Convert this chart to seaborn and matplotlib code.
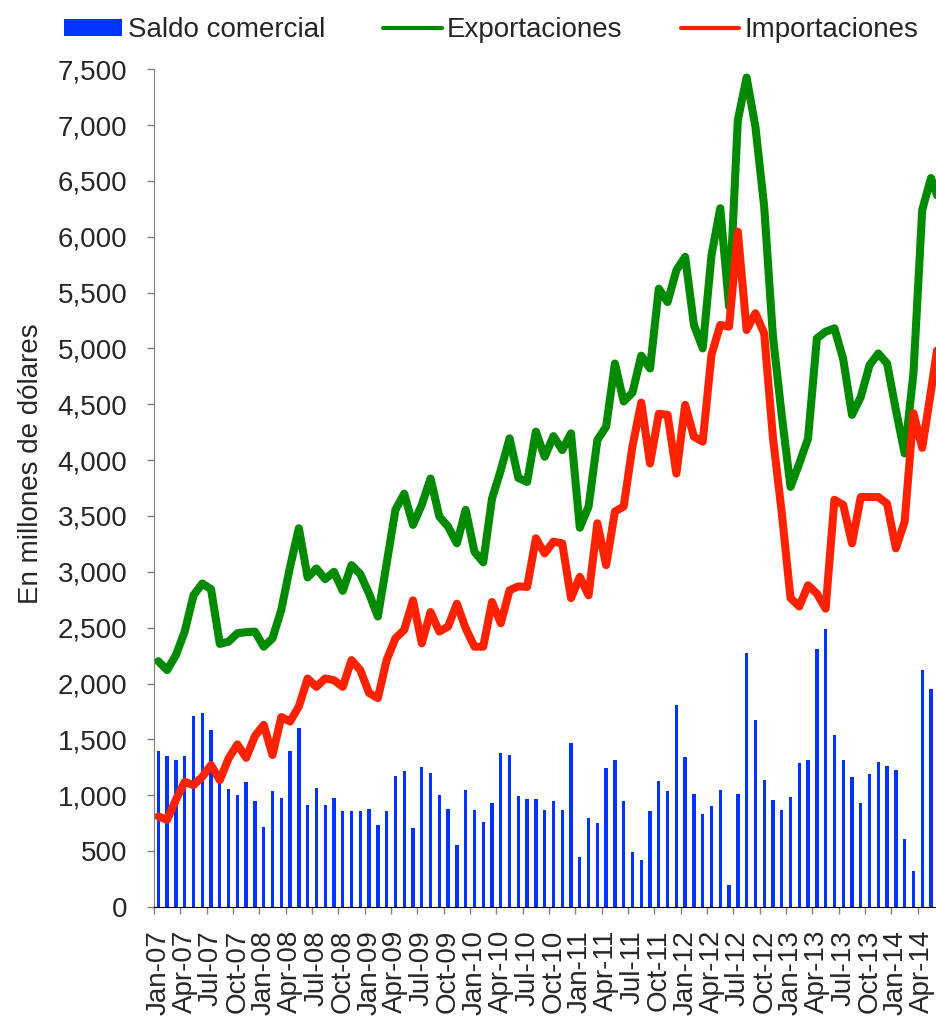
import numpy as np
import seaborn as sns
import matplotlib.pyplot as plt
from matplotlib.lines import Line2D
from matplotlib.patches import Patch
from matplotlib.ticker import FixedLocator, FuncFormatter

# monthly data, Jan-07 .. Jun-14 (last month falls outside the visible area)
exportaciones = [2200, 2120, 2255, 2465, 2790, 2895, 2845, 2355, 2375, 2450, 2460, 2465,
                 2330, 2405, 2660, 3045, 3390, 2950, 3030, 2935, 3000, 2830, 3060, 2980,
                 2805, 2600, 3075, 3555, 3700, 3420, 3600, 3835, 3495, 3405, 3255, 3555,
                 3180, 3085, 3655, 3910, 4195, 3840, 3805, 4255, 4030, 4215, 4090, 4240,
                 3395, 3585, 4180, 4300, 4865, 4525, 4605, 4935, 4820, 5535, 5415, 5700,
                 5820, 5210, 5000, 5835, 6255, 5375, 7045, 7425, 6985, 6270, 5105, 4400,
                 3760, 3970, 4195, 5090, 5150, 5180, 4905, 4405, 4565, 4850, 4955, 4865,
                 4450, 4060, 4775, 6240, 6525, 6300]

importaciones = [810, 780, 960, 1120, 1090, 1165, 1270, 1135, 1330, 1455, 1335, 1530,
                 1630, 1360, 1700, 1660, 1795, 2045, 1970, 2045, 2030, 1970, 2210, 2120,
                 1915, 1870, 2210, 2405, 2480, 2745, 2360, 2640, 2465, 2510, 2715, 2495,
                 2330, 2330, 2730, 2540, 2835, 2870, 2865, 3300, 3165, 3270, 3255, 2765,
                 2955, 2790, 3435, 3060, 3540, 3585, 4125, 4515, 3970, 4415, 4405, 3880,
                 4495, 4210, 4165, 4945, 5210, 5195, 6045, 5165, 5315, 5135, 4200, 3530,
                 2765, 2690, 2880, 2805, 2670, 3645, 3600, 3255, 3670, 3670, 3670, 3610,
                 3210, 3450, 4420, 4110, 4620, 5150]

saldo = [1395, 1350, 1315, 1355, 1705, 1735, 1585, 1215, 1055, 1000, 1120, 950,
         720, 1040, 975, 1395, 1605, 915, 1065, 915, 975, 860, 860, 860,
         875, 730, 860, 1170, 1215, 705, 1255, 1200, 1000, 880, 555, 1045,
         865, 760, 930, 1375, 1360, 990, 965, 965, 870, 950, 870, 1470,
         445, 800, 750, 1245, 1315, 945, 490, 420, 860, 1130, 1035, 1810,
         1340, 1015, 835, 905, 1045, 200, 1010, 2270, 1675, 1140, 960, 870,
         980, 1285, 1315, 2305, 2485, 1535, 1320, 1165, 935, 1190, 1295, 1260,
         1225, 610, 320, 2125, 1950, 1150]

tick_labels = ["Jan-07", "Apr-07", "Jul-07", "Oct-07", "Jan-08", "Apr-08", "Jul-08", "Oct-08",
               "Jan-09", "Apr-09", "Jul-09", "Oct-09", "Jan-10", "Apr-10", "Jul-10", "Oct-10",
               "Jan-11", "Apr-11", "Jul-11", "Oct-11", "Jan-12", "Apr-12", "Jul-12", "Oct-12",
               "Jan-13", "Apr-13", "Jul-13", "Oct-13", "Jan-14", "Apr-14"]

azul = "#0033FF"
verde = "#008A00"
rojo = "#FF2200"

sns.set_style("white")
plt.rcParams['font.family'] = ['Liberation Sans', 'DejaVu Sans']

idx = np.arange(len(saldo))

fig = plt.figure(figsize=(9.36, 10.17), dpi=100)
ax = fig.add_axes([0.1645, 0.1082, 1 - 0.1645, 0.932 - 0.1082])

sns.barplot(x=idx, y=saldo, native_scale=True, width=0.38, color=azul,
            saturation=1, errorbar=None, linewidth=0, ax=ax)
sns.lineplot(x=idx, y=exportaciones, color=verde, lw=5.8, ax=ax,
             solid_joinstyle='round', solid_capstyle='round', legend=False)
sns.lineplot(x=idx, y=importaciones, color=rojo, lw=5.8, ax=ax,
             solid_joinstyle='round', solid_capstyle='round', legend=False)

ax.set_xlim(-0.5, 88.57)
ax.set_ylim(0, 7500)

# y axis
ax.set_yticks(np.arange(0, 7501, 500))
ax.yaxis.set_major_formatter(FuncFormatter(lambda v, p: f"{int(v):,}"))
ax.tick_params(axis='y', labelsize=20, length=5, width=1, color='#808080',
               direction='out', pad=14, left=True)
ax.set_ylabel("En millones de dólares", fontsize=20)
ax.yaxis.set_label_coords(-0.14, 0.529)

# x axis: labels at month centers, ticks on quarter boundaries
ax.set_xticks(np.arange(0, 3 * len(tick_labels), 3))
ax.set_xticklabels(tick_labels, rotation=90, fontsize=20)
ax.tick_params(axis='x', which='major', length=0, pad=16.5)
ax.xaxis.set_minor_locator(FixedLocator(np.arange(-0.5, 90, 3)))
ax.tick_params(axis='x', which='minor', length=5, width=1, color='#808080',
               direction='out', bottom=True)
ax.set_xlabel("")

sns.despine(ax=ax, top=True, right=True)
ax.spines['left'].set_color('#808080')
ax.spines['bottom'].set_color('black')

handles = [Patch(facecolor=azul, edgecolor='none'),
           Line2D([], [], color=verde, lw=3, solid_capstyle='round'),
           Line2D([], [], color=rojo, lw=3, solid_capstyle='round')]
fig.legend(handles, ["Saldo comercial", "Exportaciones", "Importaciones"],
           loc='upper left', bbox_to_anchor=(0.068, 0.983), ncol=3, frameon=False,
           fontsize=20, handlelength=2.1, handleheight=0.55, handletextpad=0.2,
           columnspacing=2.1, borderpad=0, borderaxespad=0)

plt.savefig("out.png", dpi=100)
